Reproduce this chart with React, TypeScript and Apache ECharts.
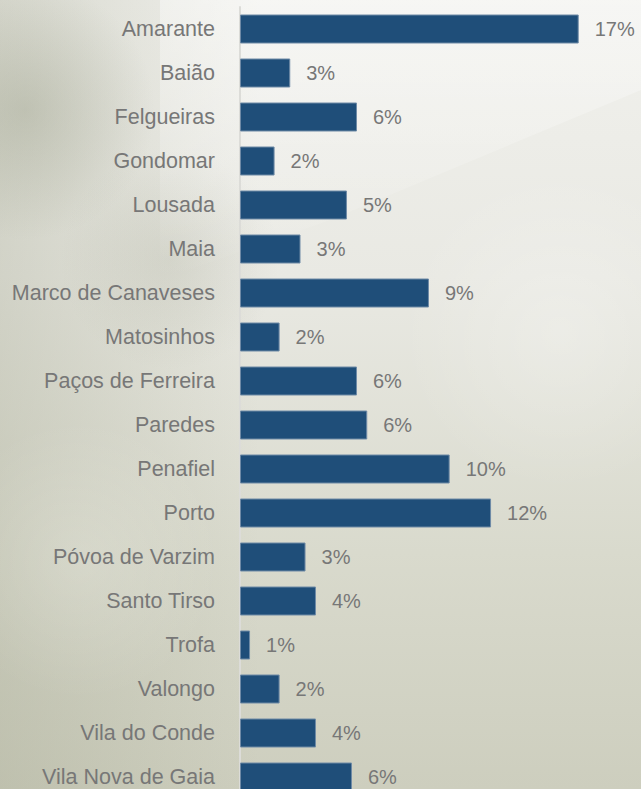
import React, { useEffect, useRef } from "react";
import * as echarts from "echarts";

const categories = [
  "Amarante", "Baião", "Felgueiras", "Gondomar", "Lousada", "Maia",
  "Marco de Canaveses", "Matosinhos", "Paços de Ferreira", "Paredes",
  "Penafiel", "Porto", "Póvoa de Varzim", "Santo Tirso", "Trofa",
  "Valongo", "Vila do Conde", "Vila Nova de Gaia",
];
const shares = [
  16.85, 2.5, 5.82, 1.72, 5.32, 3.01, 9.4, 1.97, 5.82, 6.33,
  10.43, 12.49, 3.26, 3.78, 0.5, 1.97, 3.78, 5.57,
];

const FONT = "'Liberation Sans', Arial, sans-serif";

function softBlob(cx: number, cy: number, r: number, rgb: string, alpha: number) {
  return {
    type: "circle",
    z: -10,
    silent: true,
    shape: { cx, cy, r },
    style: {
      fill: new echarts.graphic.RadialGradient(0.5, 0.5, 0.5, [
        { offset: 0, color: `rgba(${rgb},${alpha})` },
        { offset: 1, color: `rgba(${rgb},0)` },
      ]),
    },
  };
}

export default function App() {
  const ref = useRef<HTMLDivElement>(null);
  useEffect(() => {
    if (!ref.current) return;
    const chart = echarts.init(ref.current, null, { renderer: "svg" });
    chart.setOption({
      animation: false,
      backgroundColor: new echarts.graphic.LinearGradient(0, 0, 0, 1, [
        { offset: 0, color: "#f1f1ed" },
        { offset: 0.35, color: "#e9e9e3" },
        { offset: 0.7, color: "#d9dacd" },
        { offset: 1, color: "#cdcebe" },
      ]),
      graphic: [
        {
          type: "rect",
          z: -10,
          silent: true,
          shape: { x: 0, y: 0, width: 260, height: 789 },
          style: {
            fill: new echarts.graphic.LinearGradient(0, 0, 1, 0, [
              { offset: 0, color: "rgba(160,163,140,0.32)" },
              { offset: 1, color: "rgba(160,163,140,0)" },
            ]),
          },
        },
        softBlob(25, 110, 130, "135,140,115", 0.3),
        softBlob(170, 260, 110, "145,148,125", 0.18),
        softBlob(560, 330, 160, "255,255,255", 0.25),
        softBlob(80, 560, 140, "255,255,250", 0.2),
        {
          type: "polygon",
          z: -10,
          silent: true,
          shape: { points: [[160, 0], [641, 0], [641, 90], [330, 220], [160, 280]] },
          style: {
            fill: new echarts.graphic.LinearGradient(0, 0, 0, 1, [
              { offset: 0, color: "rgba(255,255,255,0.4)" },
              { offset: 1, color: "rgba(255,255,255,0.0)" },
            ]),
          },
        },
      ],
      grid: {
        left: 240,
        right: 1,
        top: 7,
        bottom: -10,
        containLabel: false,
        outerBoundsMode: "none",
      },
      xAxis: {
        type: "value",
        min: 0,
        max: 19.9,
        show: false,
      },
      yAxis: {
        type: "category",
        inverse: true,
        data: categories,
        axisLine: { show: true, lineStyle: { color: "#dcdcd8", width: 2 } },
        axisTick: { show: false },
        axisLabel: {
          margin: 25,
          color: "#777777",
          fontSize: 21.5,
          fontFamily: FONT,
        },
      },
      series: [
        {
          type: "bar",
          data: shares,
          barWidth: 29,
          itemStyle: { color: "#1f4e79", borderColor: "#6f8aa6", borderWidth: 1 },
          label: {
            show: true,
            position: "right",
            distance: 16,
            color: "#777777",
            fontSize: 20,
            fontFamily: FONT,
            formatter: (p: any) => Math.round(p.value) + "%",
          },
        },
      ],
    });
    return () => chart.dispose();
  }, []);
  return (
    <div
      ref={ref}
      style={{ position: "fixed", left: 0, top: 0, width: 641, height: 789 }}
    />
  );
}
